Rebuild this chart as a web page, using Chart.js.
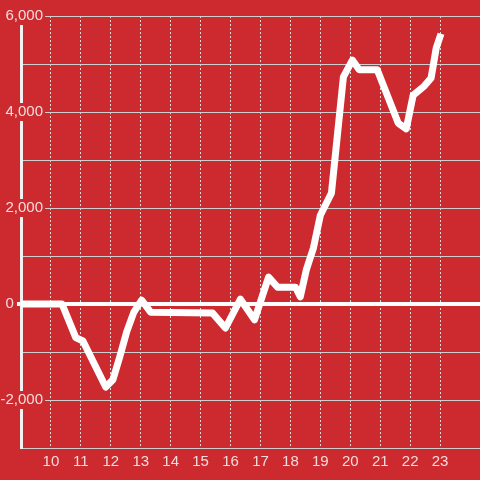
<!DOCTYPE html>
<html>
<head>
<meta charset="utf-8">
<script src="https://cdn.jsdelivr.net/npm/chart.js@4"></script>
<style>
  html, body { margin: 0; padding: 0; background: #cc2a2f; }
  #wrap { width: 480px; height: 480px; position: relative; }
</style>
</head>
<body>
<div id="wrap"><canvas id="chart"></canvas></div>
<script>
// hours of the day (x) and values (y)
const hours = [9.0, 10.37, 10.83, 11.07, 11.83, 12.07, 12.3, 12.53, 12.77, 13.03, 13.33,
    15.4, 15.83, 16.33, 16.8, 17.27, 17.57, 18.17, 18.33, 18.53, 18.77, 19.0, 19.37,
    19.77, 20.07, 20.3, 20.9, 21.6, 21.87, 22.1, 22.47, 22.7, 22.87, 23.03];
const values = [0, 0, -700, -770, -1730, -1580, -1100, -580, -170, 80, -170,
    -190, -500, 100, -330, 560, 350, 350, 150, 710, 1170, 1850, 2310,
    4730, 5080, 4880, 4880, 3770, 3650, 4350, 4540, 4710, 5330, 5630];

const xMin = 9, xMax = 24.333;
const yMin = -3000, yMax = 6000;

const bg = '#cc2a2f';
const labelColor = '#f3dcdc';
const font = { family: "'Liberation Sans', Arial, sans-serif", size: 15 };

document.addEventListener('DOMContentLoaded', function () {
    const ctx = document.getElementById('chart').getContext('2d');
    const points = hours.map((h, i) => ({ x: h, y: values[i] }));

    new Chart(ctx, {
        type: 'line',
        data: {
            datasets: [{
                data: points,
                borderColor: '#ffffff',
                borderWidth: 7,
                borderJoinStyle: 'round',
                pointRadius: 0,
                tension: 0,
                fill: false
            }]
        },
        options: {
            responsive: true,
            maintainAspectRatio: false,
            animation: false,
            layout: { padding: { top: 16, right: 0, bottom: 0, left: 0 } },
            plugins: { legend: { display: false }, tooltip: { enabled: false } },
            scales: {
                x: {
                    type: 'linear',
                    min: xMin,
                    max: xMax,
                    afterBuildTicks: s => {
                        s.ticks = s.ticks.filter(t => Number.isInteger(t.value) && t.value >= 10);
                    },
                    afterFit: s => { s.height = 32; },
                    ticks: {
                        stepSize: 1,
                        autoSkip: false,
                        maxRotation: 0,
                        padding: 5,
                        color: labelColor,
                        font: font
                    },
                    grid: { color: '#dcdcdc', lineWidth: 1, drawTicks: false },
                    border: { color: '#cccccc', width: 1, dash: [2, 2] }
                },
                y: {
                    min: yMin,
                    max: yMax,
                    afterFit: s => { s.width = 21; },
                    ticks: {
                        stepSize: 1000,
                        mirror: true,
                        crossAlign: 'far',
                        padding: -20.5,
                        color: labelColor,
                        font: font,
                        showLabelBackdrop: true,
                        backdropPadding: { top: 0, bottom: 0, left: 2, right: 2 },
                        backdropColor: c => (c.tick && c.tick.value % 2000 === 0 && c.tick.value !== 0) ? bg : 'rgba(0,0,0,0)',
                        callback: v => {
                            if (v === 0) return '0       ';
                            return v % 2000 === 0 ? v.toLocaleString('en-US') : '';
                        }
                    },
                    grid: {
                        color: c => (c.tick && c.tick.value === 0) ? '#ffffff' : '#cfcfcf',
                        lineWidth: c => (c.tick && c.tick.value === 0) ? 4 : 1,
                        drawTicks: true,
                        tickLength: 4,
                        tickColor: c => (c.tick && c.tick.value === 0) ? '#ffffff' : 'rgba(0,0,0,0)'
                    },
                    border: { color: '#f2f2f2', width: 3 }
                }
            }
        }
    });
});
</script>
</body>
</html>
